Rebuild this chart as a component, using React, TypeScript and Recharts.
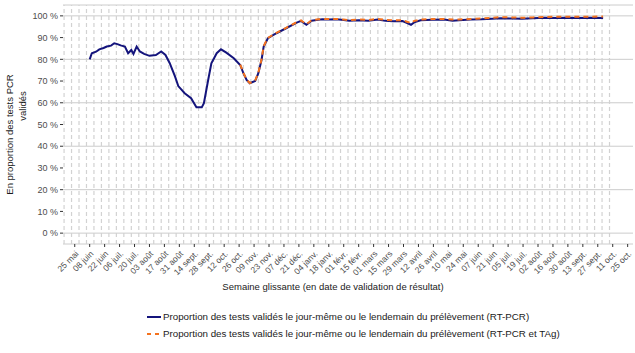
import React from 'react';
import { LineChart, Line, XAxis, YAxis, CartesianGrid, ReferenceLine, Label } from 'recharts';

// Semaine glissante, jour 0 = 25 mai 2020
const BASE = Date.UTC(2020, 4, 25);

const DATES = [
  '2020-06-08', '2020-06-10', '2020-06-14', '2020-06-17', '2020-06-21', '2020-06-24', '2020-06-28',
  '2020-07-01', '2020-07-04', '2020-07-07', '2020-07-11', '2020-07-14', '2020-07-17', '2020-07-19',
  '2020-07-22', '2020-07-25', '2020-07-29', '2020-08-03', '2020-08-09', '2020-08-14', '2020-08-18',
  '2020-08-22', '2020-08-27', '2020-08-30', '2020-09-05', '2020-09-11', '2020-09-16', '2020-09-21',
  '2020-09-23', '2020-09-27', '2020-09-30', '2020-10-05', '2020-10-09', '2020-10-14', '2020-10-21',
  '2020-10-27', '2020-10-30', '2020-11-02', '2020-11-05', '2020-11-10', '2020-11-13', '2020-11-16',
  '2020-11-18', '2020-11-22', '2020-11-30', '2020-12-09', '2020-12-19', '2020-12-23', '2020-12-28',
  '2021-01-02', '2021-01-08', '2021-01-12', '2021-01-18', '2021-01-25', '2021-02-01', '2021-02-06',
  '2021-02-15', '2021-02-24', '2021-03-05', '2021-03-12', '2021-03-19', '2021-03-28', '2021-04-02',
  '2021-04-05', '2021-04-08', '2021-04-14', '2021-04-25', '2021-05-06', '2021-05-14', '2021-05-20',
  '2021-05-31', '2021-06-10', '2021-06-20', '2021-06-28', '2021-07-08', '2021-07-18', '2021-07-28',
  '2021-08-08', '2021-08-18', '2021-08-29', '2021-09-09', '2021-09-20', '2021-10-02',
];

// RT-PCR
const PCR = [
  80.0, 82.8, 83.5, 84.6, 85.2, 85.9, 86.3,
  87.4, 87.0, 86.4, 85.9, 82.8, 84.3, 82.5,
  85.9, 83.6, 82.5, 81.6, 82.0, 83.6, 82.0,
  78.2, 72.0, 67.7, 64.4, 62.1, 57.9, 57.9,
  59.8, 70.5, 78.2, 82.8, 84.6, 83.1, 80.5,
  77.4, 73.6, 70.5, 69.0, 70.0, 73.6, 79.7,
  85.9, 89.7, 92.0, 94.3, 96.9, 97.7, 95.9,
  97.8, 98.2, 98.4, 98.3, 98.4, 98.1, 97.8,
  98.0, 97.7, 98.3, 97.7, 97.5, 97.6, 96.6,
  95.9, 97.0, 98.0, 98.2, 98.3, 97.7, 98.0,
  98.3, 98.4, 98.7, 98.9, 98.8, 98.7, 98.9,
  99.1, 99.0, 99.1, 99.0, 99.1, 99.0,
];

// RT-PCR et TAg
const PCR_TAG = [
  null, null, null, null, null, null, null,
  null, null, null, null, null, null, null,
  null, null, null, null, null, null, null,
  null, null, null, null, null, null, null,
  null, null, null, null, null, null, null,
  77.6, 73.8, 70.6, 69.1, 70.2, 73.9, 80.0,
  86.1, 89.9, 92.2, 94.5, 97.1, 97.9, 96.2,
  98.0, 98.4, 98.5, 98.5, 98.6, 98.3, 98.0,
  98.3, 98.1, 98.6, 98.2, 97.9, 98.0, 97.2,
  96.6, 97.7, 98.3, 98.5, 98.6, 98.3, 98.3,
  98.6, 98.8, 99.1, 99.4, 99.3, 99.1, 99.3,
  99.5, 99.6, 99.6, 99.6, 99.6, 99.7,
];

const X_TICK_LABELS = [
  '25 mai', '08 juin', '22 juin', '06 juil.', '20 juil.', '03 août', '17 août', '31 août',
  '14 sept.', '28 sept.', '12 oct.', '26 oct.', '09 nov.', '23 nov.', '07 déc.', '21 déc.',
  '04 janv.', '18 janv.', '01 févr.', '15 févr.', '01 mars', '15 mars', '29 mars', '12 avril',
  '26 avril', '10 mai', '24 mai', '07 juin', '21 juin', '05 juil.', '19 juil.', '02 août',
  '16 août', '30 août', '13 sept.', '27 sept.', '11 oct.', '25 oct.',
];

const Y_TICKS = [0, 10, 20, 30, 40, 50, 60, 70, 80, 90, 100];

const SERIES_NAMES = [
  'Proportion des tests validés le jour-même ou le lendemain du prélèvement (RT-PCR)',
  'Proportion des tests validés le jour-même ou le lendemain du prélèvement (RT-PCR et TAg)',
];

const BLUE = '#14147c';
const ORANGE = '#f4721e';
const FONT = '"Liberation Sans", Arial, sans-serif';

const toDay = (iso: string) => Math.round((Date.parse(iso + 'T00:00:00Z') - BASE) / 86400000);

const data = DATES.map((d, i) => ({ day: toDay(d), pcr: PCR[i], pcrTag: PCR_TAG[i] }));
const xTicks = X_TICK_LABELS.map((_, i) => i * 14);
// lignes verticales hebdomadaires
const gridDays = Array.from({ length: 74 }, (_, i) => 4 + 7 * (i - 2));

function XTick({ x, y, payload }: any) {
  const label = X_TICK_LABELS[Math.round(payload.value / 14)];
  return (
    <g transform={`translate(${x},${y})`}>
      <text transform="rotate(-45)" textAnchor="end" dy="0.72em" fontSize={8.5} fill="#4d4d4d" fontFamily={FONT}>
        {label}
      </text>
    </g>
  );
}

function YTitle() {
  return (
    <g fontFamily={FONT} fontSize={9.5} fill="#1a1a1a">
      <text transform="translate(13,134.5) rotate(-90)" textAnchor="middle">En proportion des tests PCR</text>
      <text transform="translate(26,106) rotate(-90)" textAnchor="middle">validés</text>
    </g>
  );
}

function XTitle() {
  return (
    <text x={333} y={290} textAnchor="middle" fontFamily={FONT} fontSize={9.5} fill="#1a1a1a">
      Semaine glissante (en date de validation de résultat)
    </text>
  );
}

export default function App() {
  return (
    <div style={{ position: 'absolute', left: 0, top: 0, width: 635, height: 353, background: '#fff' }}>
      <LineChart width={635} height={353} data={data} margin={{ top: 5, right: 2, left: 0, bottom: 0 }}>
        <CartesianGrid vertical={false} stroke="#cccccc" strokeWidth={1} />
        {gridDays.map((d) => (
          <ReferenceLine key={d} x={d} stroke="#d2d2d2" strokeWidth={1.2} strokeDasharray="4 3" />
        ))}
        <XAxis
          dataKey="day"
          type="number"
          domain={[-11, 523]}
          ticks={xTicks}
          interval={0}
          axisLine={false}
          tickLine={{ stroke: '#333333' }}
          tickSize={3}
          tickMargin={3}
          height={109}
          tick={<XTick />}
        >
          <Label content={<XTitle />} />
        </XAxis>
        <YAxis
          type="number"
          domain={[-5, 105]}
          ticks={Y_TICKS}
          width={63}
          axisLine={false}
          tickLine={{ stroke: '#333333' }}
          tickSize={3}
          tickMargin={2}
          tickFormatter={(v) => `${v} %`}
          tick={{ fontSize: 9, fill: '#4d4d4d', fontFamily: FONT }}
        >
          <Label content={<YTitle />} />
        </YAxis>
        <Line dataKey="pcr" stroke={BLUE} strokeWidth={2} dot={false} isAnimationActive={false} />
        <Line
          dataKey="pcrTag"
          stroke={ORANGE}
          strokeWidth={2}
          strokeDasharray="5 4"
          dot={false}
          isAnimationActive={false}
        />
      </LineChart>
      <div style={{ position: 'absolute', left: 0, top: 0, fontFamily: FONT, fontSize: 9.75, color: '#1a1a1a' }}>
        {SERIES_NAMES.map((name, i) => (
          <div key={name} style={{ position: 'absolute', left: 146, top: 311 + i * 16.6, whiteSpace: 'nowrap', height: 12 }}>
            <svg width={16} height={12} style={{ position: 'absolute', left: 0, top: 0 }}>
              <line
                x1={1}
                x2={15}
                y1={6}
                y2={6}
                stroke={i === 0 ? BLUE : ORANGE}
                strokeWidth={2}
                strokeDasharray={i === 0 ? undefined : '4 4'}
              />
            </svg>
            <span style={{ position: 'absolute', left: 17, top: 0, lineHeight: '12px' }}>{name}</span>
          </div>
        ))}
      </div>
    </div>
  );
}
